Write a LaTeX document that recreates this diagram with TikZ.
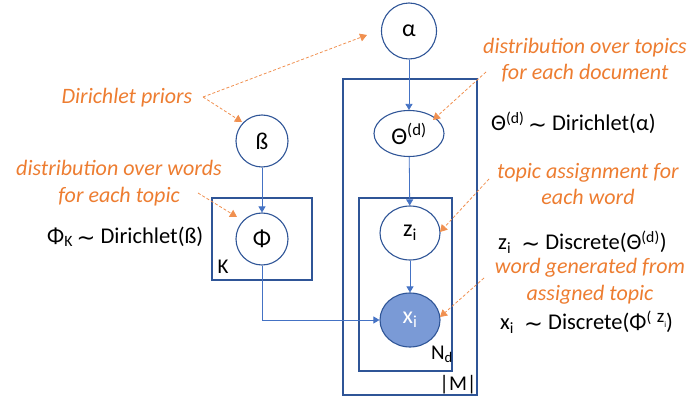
\documentclass[tikz,border=0pt]{standalone}
\usepackage{fontspec}
\setmainfont{Carlito}
\newfontfamily\symfont{DejaVu Sans}
\usetikzlibrary{arrows.meta,shapes.geometric}
\definecolor{nodeblue}{HTML}{2F5597}
\definecolor{edgeblue}{HTML}{4472C4}
\definecolor{obsfill}{HTML}{7A9AD6}
\definecolor{noteorange}{HTML}{ED7D31}
\newcommand{\tld}{{\symfont\raisebox{-0.08em}{∼}}}
\begin{document}
\begin{tikzpicture}[x=1pt,y=-1pt,
  var/.style={ellipse, draw=nodeblue, line width=1.1pt, inner sep=0pt,
    font=\fontsize{24}{26}\selectfont},
  obs/.style={var, fill=obsfill, text=white},
  plate/.style={draw=nodeblue, line width=1.1pt, inner sep=0pt},
  platelabel/.style={font=\fontsize{21}{24}\selectfont, inner sep=0pt},
  edge/.style={draw=edgeblue, line width=0.8pt, -{Triangle[width=7pt,length=6pt]}},
  note/.style={text=noteorange, font=\itshape\fontsize{22}{26.5}\selectfont, align=center, inner sep=0pt},
  notearrow/.style={draw=noteorange!85, line width=0.8pt, dash pattern=on 3pt off 2pt,
    -{Triangle[width=8pt,length=7pt]}},
  formula/.style={font=\fontsize{22.5}{26}\selectfont, anchor=west, inner sep=0pt}]
  \useasboundingbox (0,0) rectangle (689,401);

  % plates
  \node[plate, minimum width=134pt, minimum height=316pt] (plateM) at (410,237) {};
  \node[plate, minimum width=93pt, minimum height=173pt] (plateN) at (405.5,284.5) {};
  \node[plate, minimum width=100pt, minimum height=82pt] (plateK) at (262,239) {};
  \node[platelabel] (labM) at (458,385) {|M|};
  \node[platelabel] (labN) at (442,354) {N\textsubscript{d}};
  \node[platelabel] (labK) at (223,267) {K};

  % random variables
  \node[var, minimum width=55pt, minimum height=56pt] (alpha) at (409,31) {α};
  \node[var, minimum width=70pt, minimum height=46pt] (theta) at (409,133.5) {Θ\textsuperscript{(d)}};
  \node[var, minimum width=60pt, minimum height=54pt, fill=white] (z) at (410,233) {z\textsubscript{i}};
  \node[obs, minimum width=60pt, minimum height=54pt] (x) at (410,320) {x\textsubscript{i}};
  \node[var, minimum width=52pt, minimum height=52pt] (beta) at (262,141) {ß};
  \node[var, minimum width=52pt, minimum height=52pt, fill=white] (phi) at (262,239) {Φ};

  % dependencies
  \draw[edge] (alpha) -- (theta);
  \draw[edge] (theta) -- (z);
  \draw[edge] (z) -- (x);
  \draw[edge] (beta) -- (phi);
  \draw[edge] (phi) |- (x);

  % annotations, left side
  \node[note] (priors) at (127,98) {Dirichlet priors};
  \node[note] (wordsdist) at (119,183) {distribution over words\\for each topic};
  \node[formula] (phiform) at (47,237) {Φ\textsubscript{K}\,\tld\ Dirichlet(ß)};

  % annotations, right side
  \node[note] (topicsdist) at (585,60) {distribution over topics\\for each document};
  \node[formula] (thetaform) at (491,123) {Θ\textsuperscript{(d)}\,\tld\ Dirichlet(α)};
  \node[note] (assign) at (588,184) {topic assignment for\\each word};
  \node[formula] (zform) at (498,242) {z\textsubscript{i}\ \ \tld\ Discrete(Θ\textsuperscript{(d)})};
  \node[note] (generated) at (590,281) {word generated from\\assigned topic};
  \node[formula] (xform) at (500,322) {x\textsubscript{i}\ \ \tld\ Discrete(Φ\textsuperscript{(}\ \raisebox{0.3em}{\fontsize{19}{19}\selectfont z}\raisebox{0.1em}{\fontsize{8}{8}\selectfont i})};

  % pointers from the annotations
  \coordinate (priorsend) at (203,97);
  \coordinate (alphatip) at (367,35);
  \coordinate (betatip) at (242,122);
  \coordinate (wordsend) at (198,193);
  \coordinate (phitip) at (237,217);
  \coordinate (docstart) at (486,72);
  \coordinate (thetatip) at (433,120);
  \coordinate (assignstart) at (489,179);
  \coordinate (ztip) at (440,232);
  \coordinate (genstart) at (484,278);
  \coordinate (xtip) at (440,317);
  \draw[notearrow] (priorsend) -- (alphatip);
  \draw[notearrow] (priorsend) -- (betatip);
  \draw[notearrow] (wordsend) -- (phitip);
  \draw[notearrow] (docstart) -- (thetatip);
  \draw[notearrow] (assignstart) -- (ztip);
  \draw[notearrow] (genstart) -- (xtip);
\end{tikzpicture}
\end{document}
